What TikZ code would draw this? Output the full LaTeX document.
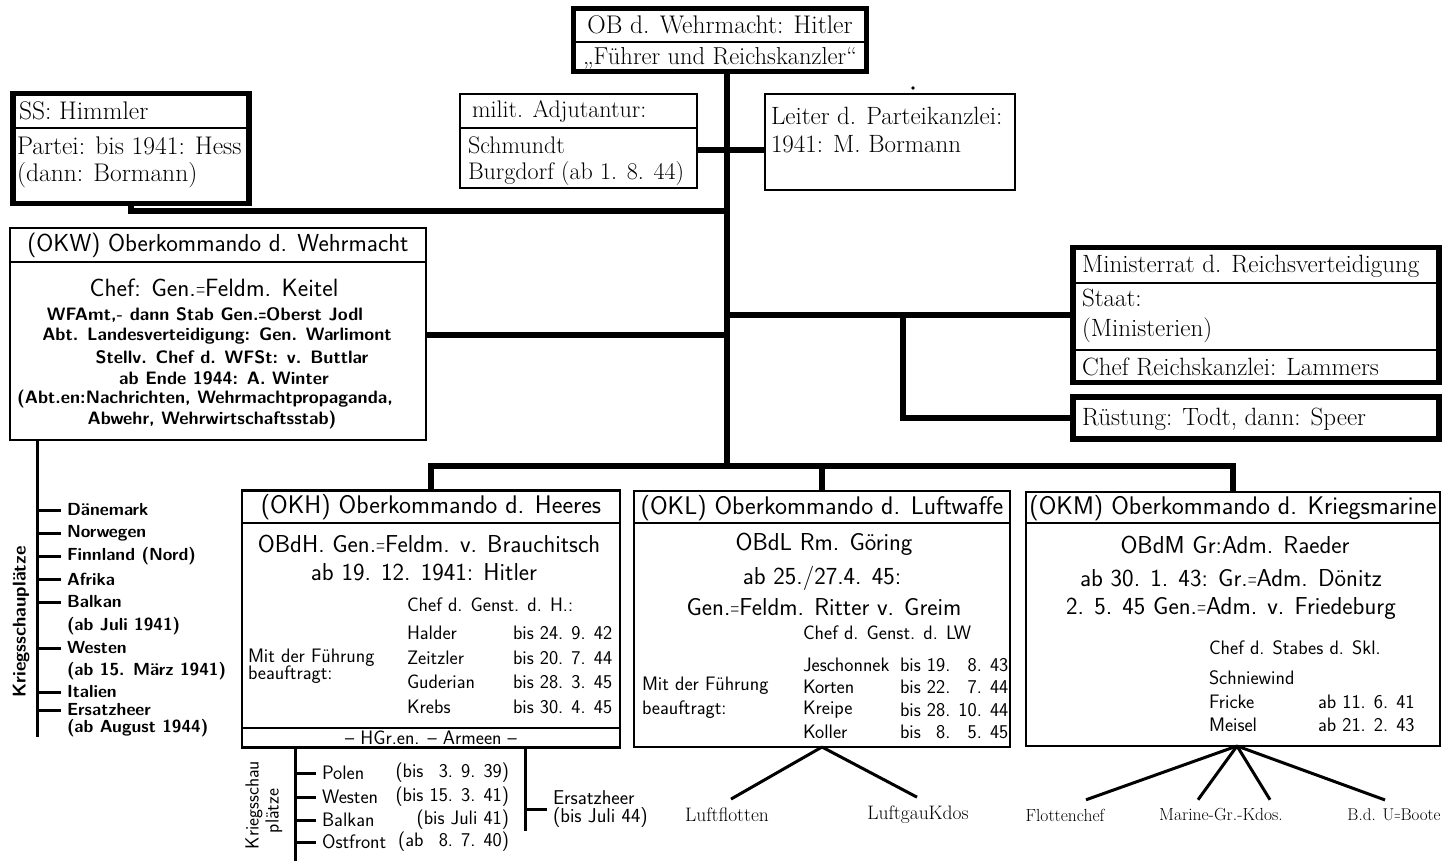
\documentclass[tikz,border=0pt]{standalone}
\usepackage{fontspec}
\usepackage{graphicx}
\usetikzlibrary{calc}
\newcommand\dhy{\scalebox{0.5}[1]{=}}
\tikzset{
  thickbox/.style={draw, line width=5.5pt, inner sep=0pt, outer sep=0pt, rectangle},
  thinbox/.style={draw, line width=2.4pt, inner sep=0pt, outer sep=0pt, rectangle},
  conn/.style={line width=5.5pt},
  kline/.style={line width=3pt},
  fan/.style={line width=3pt},
  divider/.style={line width=2pt},
  serT/.style={inner sep=0pt, outer sep=0pt, font=\fontsize{#1}{#1}\selectfont},
  sanT/.style={inner sep=0pt, outer sep=0pt, font=\sffamily\fontsize{#1}{#1}\selectfont},
  sanB/.style={inner sep=0pt, outer sep=0pt, font=\sffamily\bfseries\fontsize{#1}{#1}\selectfont},
}
\begin{document}
\begin{tikzpicture}[x=1pt,y=-1pt,line join=miter]
\useasboundingbox (0,0) rectangle (1445,861);

% ---------- junction coordinates on the trunk ----------
\coordinate (jS) at (727,211);
\coordinate (jA) at (727,150);
\coordinate (jM) at (727,315);
\coordinate (jW) at (727,335);
\coordinate (jR) at (903,315);
\coordinate (jB) at (727,466);

% ---------- OB box ----------
\node[thickbox, minimum width=293pt, minimum height=63pt] (ob) at (720,40) {};
\draw[divider] (ob.west |- 0,42) -- (ob.east |- 0,42);
\node[serT=25.5] (ob1) at (720,25) {OB d. Wehrmacht: Hitler};
\node[serT=24.5] (ob2) at (720,58) {„Führer und Reichskanzler“};

% ---------- SS box ----------
\node[thickbox, minimum width=236pt, minimum height=110pt] (ss) at (131,148.5) {};
\draw[divider] (ss.west |- 0,128) -- (ss.east |- 0,128);
\node[serT=25.5, anchor=west] (ss1) at (19,111) {SS: Himmler};
\node[serT=25.5, anchor=west] (ss2) at (17,146) {Partei: bis 1941: Hess};
\node[serT=25.5, anchor=west] (ss3) at (17,175) {(dann: Bormann)};

% ---------- milit. Adjutantur ----------
\node[thinbox, minimum width=237pt, minimum height=94pt] (adj) at (578.5,141) {};
\draw[divider] (adj.west |- 0,128) -- (adj.east |- 0,128);
\node[serT=24, anchor=west] (adj1) at (472,111) {milit. Adjutantur:};
\node[serT=24, anchor=west] (adj2) at (468,145) {Schmundt};
\node[serT=24, anchor=west] (adj3) at (468,174) {Burgdorf (ab 1. 8. 44)};

% ---------- Leiter d. Parteikanzlei ----------
\node[thinbox, minimum width=250pt, minimum height=96pt] (lp) at (890,142) {};
\node[serT=25, anchor=west] (lp1) at (771,116) {Leiter d. Parteikanzlei:};
\node[serT=25, anchor=west] (lp2) at (771,144) {1941: M. Bormann};
\fill (913,88) circle (1.8pt);

% ---------- OKW ----------
\node[thinbox, minimum width=416pt, minimum height=212pt] (okw) at (218,334) {};
\draw[divider] (okw.west |- 0,262) -- (okw.east |- 0,262);
\node[sanT=24.6] (okw0) at (218,245) {(OKW) Oberkommando d. Wehrmacht};
\node[sanT=25] (okw1) at (214,288) {Chef: Gen.\dhy Feldm. Keitel};
\node[sanB=18] (okw2) at (205,315) {WFAmt,- dann Stab Gen.\dhy Oberst Jodl};
\node[sanB=18] (okw3) at (217,336) {Abt. Landesverteidigung: Gen. Warlimont};
\node[sanB=18] (okw4) at (232,357) {Stellv. Chef d. WFSt: v. Buttlar};
\node[sanB=18] (okw5) at (224,378) {ab Ende 1944: A. Winter};
\node[sanB=18] (okw6) at (205,399) {(Abt.en:Nachrichten, Wehrmachtpropaganda,};
\node[sanB=18] (okw7) at (212,420) {Abwehr, Wehrwirtschaftsstab)};

% ---------- Ministerrat ----------
\node[thickbox, minimum width=366pt, minimum height=135pt] (mr) at (1256,315) {};
\draw[divider] (mr.west |- 0,283) -- (mr.east |- 0,283);
\draw[divider] (mr.west |- 0,350) -- (mr.east |- 0,350);
\node[inner sep=0pt, font=\fontsize{25}{25}\selectfont\addfontfeature{LetterSpace=8}, anchor=west] (mr1) at (1082,266) {Ministerrat d. Reichsverteidigung};
\node[serT=25, anchor=west] (mr2) at (1082,298) {Staat:};
\node[serT=25, anchor=west] (mr3) at (1082,330) {(Ministerien)};
\node[inner sep=0pt, font=\fontsize{25}{25}\selectfont\addfontfeature{LetterSpace=4}, anchor=west] (mr4) at (1082,367) {Chef Reichskanzlei: Lammers};

% ---------- Rüstung ----------
\node[thickbox, minimum width=366pt, minimum height=42pt] (rs) at (1256,418) {};
\node[serT=25, anchor=west] (rs1) at (1082,419) {Rüstung: Todt, dann: Speer};

% ---------- OKH ----------
\node[thinbox, minimum width=378pt, minimum height=257pt] (okh) at (431,619) {};
\draw[divider] (okh.west |- 0,523) -- (okh.east |- 0,523);
\draw[divider] (okh.west |- 0,728) -- (okh.east |- 0,728);
\node[sanT=25.5] (okh0) at (431,507) {(OKH) Oberkommando d. Heeres};
\node[sanT=24.5] (okh1) at (429,544) {OBdH. Gen.\dhy Feldm. v. Brauchitsch};
\node[sanT=24.5] (okh2) at (424,572) {ab 19. 12. 1941: Hitler};
\node[sanT=19.5, anchor=west] (okh3) at (407,605) {Chef d. Genst. d. H.:};
\node[sanT=19.5, anchor=west] (okhn1) at (407,633) {Halder};
\node[sanT=19.5, anchor=west] (okhn2) at (407,658) {Zeitzler};
\node[sanT=19.5, anchor=west] (okhn3) at (407,682) {Guderian};
\node[sanT=19.5, anchor=west] (okhn4) at (407,707) {Krebs};
\node[sanT=19.5, anchor=west] (okhd1) at (513,633) {bis 24. 9. 42};
\node[sanT=19.5, anchor=west] (okhd2) at (513,658) {bis 20. 7. 44};
\node[sanT=19.5, anchor=west] (okhd3) at (513,682) {bis 28. 3. 45};
\node[sanT=19.5, anchor=west] (okhd4) at (513,707) {bis 30. 4. 45};
\node[sanT=19.5, anchor=west] (okhm1) at (248,658) {Mit der Führung};
\node[sanT=19.5, anchor=west] (okhm2) at (248,675) {beauftragt:};
\node[sanT=19.5] (okhh) at (431,738) {– HGr.en. – Armeen –};

% ---------- OKL ----------
\node[thinbox, minimum width=376pt, minimum height=256pt] (okl) at (822,619) {};
\draw[divider] (okl.west |- 0,523) -- (okl.east |- 0,523);
\node[sanT=25.5] (okl0) at (822,508) {(OKL) Oberkommando d. Luftwaffe};
\node[sanT=24.5] (okl1) at (824,544) {OBdL Rm. Göring};
\node[sanT=24.5] (okl2) at (822,578) {ab 25./27.4. 45:};
\node[sanT=24.5] (okl3) at (824,607) {Gen.\dhy Feldm. Ritter v. Greim};
\node[sanT=19.5, anchor=west] (okl4) at (803,633) {Chef d. Genst. d. LW};
\node[sanT=19.5, anchor=west] (okln1) at (803,665) {Jeschonnek};
\node[sanT=19.5, anchor=west] (okln2) at (803,687) {Korten};
\node[sanT=19.5, anchor=west] (okln3) at (803,710) {Kreipe};
\node[sanT=19.5, anchor=west] (okln4) at (803,732) {Koller};
\node[sanT=19.5, anchor=west] (okld1) at (900,665) {bis 19. \phantom{1}8. 43};
\node[sanT=19.5, anchor=west] (okld2) at (900,687) {bis 22. \phantom{1}7. 44};
\node[sanT=19.5, anchor=west] (okld3) at (900,710) {bis 28. 10. 44};
\node[sanT=19.5, anchor=west] (okld4) at (900,732) {bis \phantom{1}8. \phantom{1}5. 45};
\node[sanT=19.5, anchor=west] (oklm1) at (642,686) {Mit der Führung};
\node[sanT=19.5, anchor=west] (oklm2) at (642,710) {beauftragt:};

% ---------- OKM ----------
\node[thinbox, minimum width=414pt, minimum height=254pt] (okm) at (1233,619) {};
\draw[divider] (okm.west |- 0,523) -- (okm.east |- 0,523);
\node[sanT=25.5] (okm0) at (1233,508) {(OKM) Oberkommando d. Kriegsmarine};
\node[sanT=24.5] (okm1) at (1235,545) {OBdM Gr:Adm. Raeder};
\node[sanT=24.5] (okm2) at (1231,578) {ab 30. 1. 43: Gr.\dhy Adm. Dönitz};
\node[sanT=24.5] (okm3) at (1231,608) {2. 5. 45 Gen.\dhy Adm. v. Friedeburg};
\node[sanT=19.5, anchor=west] (okm4) at (1209,648) {Chef d. Stabes d. Skl.};
\node[sanT=19.5, anchor=west] (okmn1) at (1209,678) {Schniewind};
\node[sanT=19.5, anchor=west] (okmn2) at (1209,702) {Fricke};
\node[sanT=19.5, anchor=west] (okmn3) at (1209,725) {Meisel};
\node[sanT=19.5, anchor=west] (okmd2) at (1318,702) {ab 11. 6. 41};
\node[sanT=19.5, anchor=west] (okmd3) at (1318,725) {ab 21. 2. 43};

% ---------- main connectors ----------
\draw[conn] (ob.south -| jB) -- (jB);
\draw[conn] (ss.south) |- (jS);
\draw[conn] (adj.east |- jA) -- (jA) -- (lp.west |- jA);
\draw[conn] (okw.east |- jW) -- (jW);
\draw[conn] (jM) -- (mr.west |- jM);
\draw[conn] (jR) |- (rs.west);
\draw[conn] (okh.north) -- (okh.north |- jB) -- (okm.north |- jB) -- (okm.north);
\draw[conn] (okl.north |- jB) -- (okl.north);

% ---------- Kriegsschauplätze (OKW) ----------
\coordinate (k0) at (37,0);
\draw[kline] (okw.south -| k0) -- (37,737);
\node[sanB=18.5, rotate=90] (kslab) at (21,622) {Kriegsschauplätze};
\node[sanB=17.5, anchor=west] (k1) at (67,510) {Dänemark};
\node[sanB=17.5, anchor=west] (k2) at (67,533) {Norwegen};
\node[sanB=17.5, anchor=west] (k3) at (67,556) {Finnland (Nord)};
\node[sanB=17.5, anchor=west] (k4) at (67,579) {Afrika};
\node[sanB=17.5, anchor=west] (k5) at (67,602) {Balkan};
\node[sanB=17.5, anchor=west] (k5b) at (67,626) {(ab Juli 1941)};
\node[sanB=17.5, anchor=west] (k6) at (67,648) {Westen};
\node[sanB=17.5, anchor=west] (k6b) at (67,671) {(ab 15. März 1941)};
\node[sanB=17.5, anchor=west] (k7) at (67,692) {Italien};
\node[sanB=17.5, anchor=west] (k8) at (67,710) {Ersatzheer};
\node[sanB=17.5, anchor=west] (k8b) at (67,728) {(ab August 1944)};
\foreach \n in {k1,k2,k3,k4,k5,k6,k7,k8}
  \draw[kline] (\n.west -| k0) -- ([xshift=-6pt]\n.west);

% ---------- Kriegsschauplätze (OKH) ----------
\coordinate (h0) at (295,0);
\draw[kline] (okh.south -| h0) -- (295,861);
\node[sanT=19, rotate=90] (hslab1) at (254,805) {Kriegsschau};
\node[sanT=19, rotate=90] (hslab2) at (274,811) {plätze};
\node[sanT=19.5, anchor=west] (h1) at (322,773) {Polen};
\node[sanT=19.5, anchor=west] (h2) at (322,797) {Westen};
\node[sanT=19.5, anchor=west] (h3) at (322,820) {Balkan};
\node[sanT=19.5, anchor=west] (h4) at (322,842) {Ostfront};
\node[sanT=19.5, anchor=east] (hd1) at (509,773) {(bis \phantom{1}3. 9. 39)};
\node[sanT=19.5, anchor=east] (hd2) at (509,797) {(bis 15. 3. 41)};
\node[sanT=19.5, anchor=east] (hd3) at (509,820) {(bis Juli 41)};
\node[sanT=19.5, anchor=east] (hd4) at (509,842) {(ab \phantom{1}8. 7. 40)};
\foreach \n in {h1,h2,h3,h4}
  \draw[kline] (\n.west -| h0) -- ([xshift=-6pt]\n.west);
\coordinate (e0) at (525,0);
\draw[kline] (okh.south -| e0) -- (525,831);
\node[sanT=20, anchor=west, align=left, font=\sffamily\fontsize{20}{18}\selectfont] (ersatz) at (553,809) {Ersatzheer\\(bis Juli 44)};
\draw[kline] (ersatz.west -| e0) -- ([xshift=-6pt]ersatz.west);

% ---------- OKL fan ----------
\node[serT=19.5] (lfl) at (727,815) {Luftflotten};
\node[serT=19.5] (lgk) at (918,815) {LuftgauKdos};
\draw[fan] (okl.south) -- ([xshift=4pt,yshift=9pt]lfl.north);
\draw[fan] (okl.south) -- ([xshift=-1pt,yshift=9pt]lgk.north);

% ---------- OKM fan ----------
\node[serT=17.5] (fc) at (1065,815) {Flottenchef};
\node[serT=17.5] (mg) at (1221,815) {Marine-Gr.-Kdos.};
\node[serT=17] (bu) at (1394,815) {B.d. U\dhy Boote};
\coordinate (apexM) at ($(okm.south)+(4pt,0)$);
\draw[fan] (apexM) -- ([xshift=21pt,yshift=9pt]fc.north);
\draw[fan] (apexM) -- ([xshift=-23pt,yshift=9pt]mg.north);
\draw[fan] (apexM) -- ([xshift=49pt,yshift=9pt]mg.north);
\draw[fan] (apexM) -- ([xshift=-9pt,yshift=9pt]bu.north);
\end{tikzpicture}
\end{document}
